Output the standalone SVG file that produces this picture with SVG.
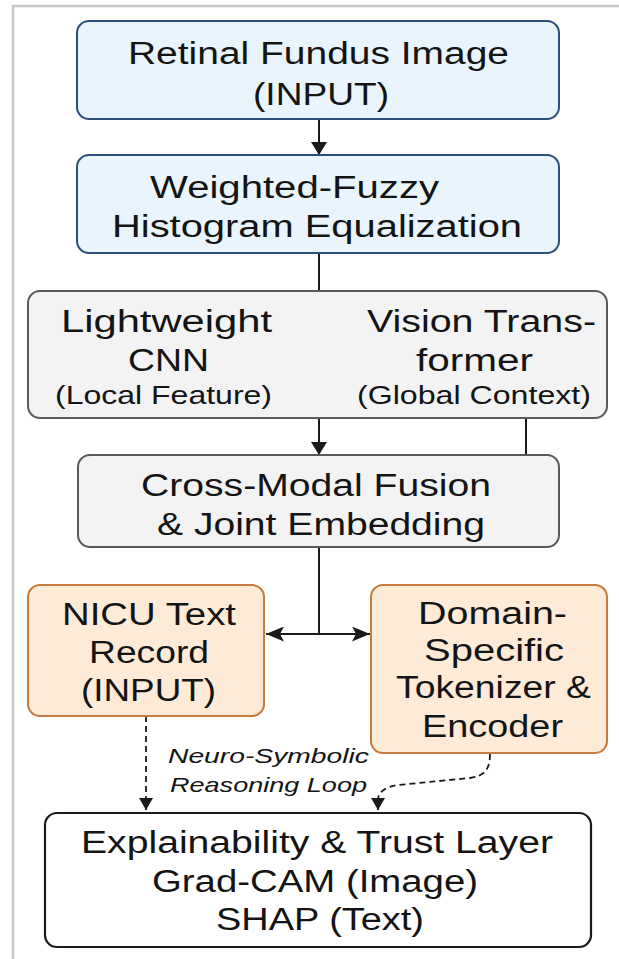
<svg xmlns="http://www.w3.org/2000/svg" width="619" height="959" viewBox="0 0 619 959">
<style>
.t{font-family:"Liberation Sans",Arial,sans-serif;font-size:31px;fill:#141414;text-anchor:middle}
.s{font-size:25px}
.lab{font-family:"Liberation Sans",Arial,sans-serif;font-size:21px;font-style:italic;fill:#141414;text-anchor:middle}
.blue{fill:#e9f4fc;stroke:#2d4f80;stroke-width:2}
.gray{fill:#f3f3f3;stroke:#5a5a5a;stroke-width:2}
.orange{fill:#fdebd8;stroke:#c87b3c;stroke-width:2}
.white{fill:#ffffff;stroke:#1a1a1a;stroke-width:2.2}
.c{fill:none;stroke:#1a1a1a;stroke-width:2}
.d{fill:none;stroke:#1a1a1a;stroke-width:1.8;stroke-dasharray:6 4}
</style>
<defs>
<marker id="ah" markerUnits="userSpaceOnUse" markerWidth="14" markerHeight="16" refX="13" refY="8" orient="auto">
<path d="M0,0 L13,8 L0,16 z" fill="#1a1a1a"/>
</marker>
<marker id="ad" markerUnits="userSpaceOnUse" markerWidth="19" markerHeight="15" refX="18" refY="7.5" orient="auto-start-reverse">
<path d="M0,0 L18,7.5 L0,15 L4,7.5 z" fill="#1a1a1a"/>
</marker>
<marker id="ak" markerUnits="userSpaceOnUse" markerWidth="13" markerHeight="14" refX="12" refY="7" orient="auto">
<path d="M0,0 L12,7 L0,14 z" fill="#1a1a1a"/>
</marker>
</defs>
<rect x="0" y="0" width="619" height="959" fill="#ffffff"/>
<rect x="13" y="6" width="700" height="1000" fill="none" stroke="#c8c8c8" stroke-width="2.5"/>

<g id="connectors">
<line class="c" x1="319" y1="120" x2="319" y2="155" marker-end="url(#ah)"/>
<line class="c" x1="319" y1="253" x2="319" y2="291"/>
<line class="c" x1="319" y1="418" x2="319" y2="455" marker-end="url(#ah)"/>
<line class="c" x1="526" y1="418" x2="526" y2="455"/>
<line class="c" x1="319" y1="547" x2="319" y2="634"/>
<line class="c" x1="266" y1="634" x2="370" y2="634" marker-start="url(#ad)" marker-end="url(#ad)"/>
<line class="d" x1="146" y1="716" x2="146" y2="810" marker-end="url(#ak)"/>
<path class="d" d="M490,754 C490,770 484,776 470,778 L398,785 C385,787 378,792 378,800 L378,810" marker-end="url(#ak)"/>
<g id="loop-label">
<text class="lab" x="268.5" y="763" textLength="201" lengthAdjust="spacingAndGlyphs">Neuro-Symbolic</text>
<text class="lab" x="268.5" y="792" textLength="197" lengthAdjust="spacingAndGlyphs">Reasoning Loop</text>
</g>
</g>

<g id="retinal-input">
<rect class="blue" x="77" y="21" width="482" height="98" rx="12"/>
<text class="t" x="318.5" y="64" textLength="381" lengthAdjust="spacingAndGlyphs">Retinal Fundus Image</text>
<text class="t" x="321" y="105" textLength="136" lengthAdjust="spacingAndGlyphs">(INPUT)</text>
</g>

<g id="wfhe">
<rect class="blue" x="77" y="155" width="482" height="98" rx="12"/>
<text class="t" x="294.5" y="198" textLength="289" lengthAdjust="spacingAndGlyphs">Weighted-Fuzzy</text>
<text class="t" x="317" y="237" textLength="410" lengthAdjust="spacingAndGlyphs">Histogram Equalization</text>
</g>

<g id="cnn-vit">
<rect class="gray" x="28" y="291" width="579" height="127" rx="12"/>
<text class="t" x="166.5" y="332" textLength="211" lengthAdjust="spacingAndGlyphs">Lightweight</text>
<text class="t" x="168.5" y="371" textLength="81" lengthAdjust="spacingAndGlyphs">CNN</text>
<text class="t s" x="163.5" y="404" textLength="217" lengthAdjust="spacingAndGlyphs">(Local Feature)</text>
<text class="t" x="481.5" y="332" textLength="229" lengthAdjust="spacingAndGlyphs">Vision Trans-</text>
<text class="t" x="474.5" y="371" textLength="117" lengthAdjust="spacingAndGlyphs">former</text>
<text class="t s" x="474" y="404" textLength="234" lengthAdjust="spacingAndGlyphs">(Global Context)</text>
</g>

<g id="fusion">
<rect class="gray" x="78" y="455" width="481" height="92" rx="12"/>
<text class="t" x="316" y="496" textLength="350" lengthAdjust="spacingAndGlyphs">Cross-Modal Fusion</text>
<text class="t" x="321" y="535" textLength="328" lengthAdjust="spacingAndGlyphs">&amp; Joint Embedding</text>
</g>

<g id="nicu-text">
<rect class="orange" x="28" y="585" width="236" height="131" rx="12"/>
<text class="t" x="149" y="625" textLength="174" lengthAdjust="spacingAndGlyphs">NICU Text</text>
<text class="t" x="149" y="663" textLength="120" lengthAdjust="spacingAndGlyphs">Record</text>
<text class="t" x="148.5" y="701" textLength="135" lengthAdjust="spacingAndGlyphs">(INPUT)</text>
</g>

<g id="tokenizer">
<rect class="orange" x="371" y="585" width="236" height="168" rx="12"/>
<text class="t" x="492.5" y="624" textLength="149" lengthAdjust="spacingAndGlyphs">Domain-</text>
<text class="t" x="494" y="661" textLength="140" lengthAdjust="spacingAndGlyphs">Specific</text>
<text class="t" x="493.5" y="698" textLength="195" lengthAdjust="spacingAndGlyphs">Tokenizer &amp;</text>
<text class="t" x="492.5" y="737" textLength="141" lengthAdjust="spacingAndGlyphs">Encoder</text>
</g>

<g id="explainability">
<rect class="white" x="45" y="813" width="546" height="134" rx="12"/>
<text class="t" x="317" y="853" textLength="472" lengthAdjust="spacingAndGlyphs">Explainability &amp; Trust Layer</text>
<text class="t" x="315" y="892" textLength="326" lengthAdjust="spacingAndGlyphs">Grad-CAM (Image)</text>
<text class="t" x="320" y="930" textLength="208" lengthAdjust="spacingAndGlyphs">SHAP (Text)</text>
</g>
</svg>
